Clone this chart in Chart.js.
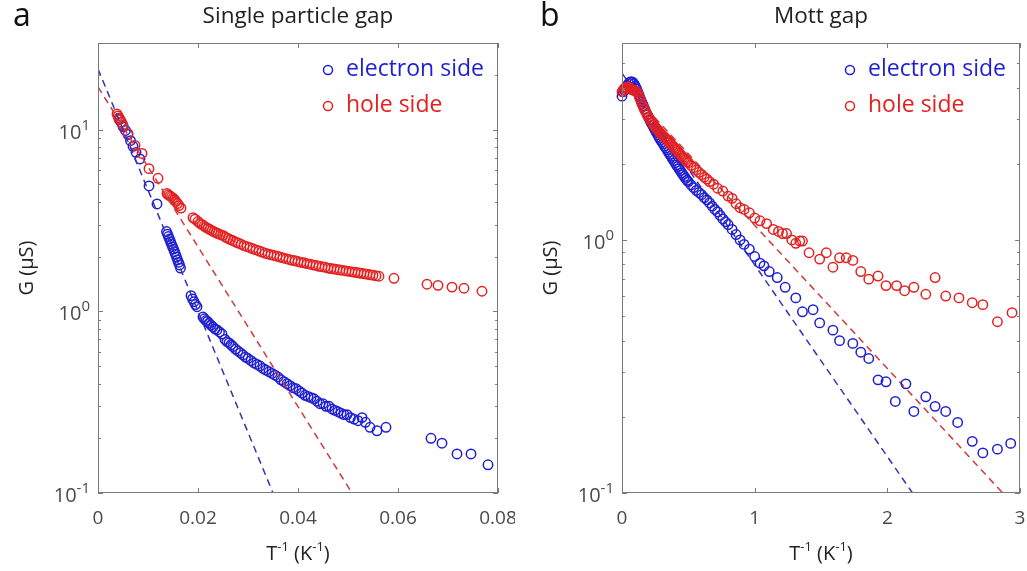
<!DOCTYPE html>
<html>
<head>
<meta charset="utf-8">
<script src="https://cdn.jsdelivr.net/npm/chart.js@4.4.1/dist/chart.umd.min.js"></script>
<style>
  body { margin: 0; background: #fff; width: 1027px; height: 571px; overflow: hidden; position: relative; }
  canvas { position: absolute; top: 0; }
  #gapChart { left: 0; }
  #mottChart { left: 520px; }
</style>
</head>
<body>
<canvas id="gapChart" width="515" height="571"></canvas>
<canvas id="mottChart" width="507" height="571"></canvas>
<script>
// ---- single particle gap: G vs 1/T ----
const gapElectronX = [0.0042, 0.0046, 0.0050, 0.0055, 0.0060, 0.0065, 0.0070, 0.0076, 0.0084, 0.0102, 0.0118,
  0.0137, 0.0139, 0.0141, 0.0143, 0.0145, 0.0147, 0.0149, 0.0151, 0.0153, 0.0155, 0.0157, 0.0159, 0.0161, 0.0163, 0.0165,
  0.0186, 0.0189, 0.0192, 0.0195, 0.0198,
  0.0210, 0.0213, 0.0216, 0.0219, 0.0222, 0.0226, 0.0230, 0.0234, 0.0238, 0.0243, 0.0248, 0.0254, 0.0258, 0.0262, 0.0266,
  0.0270, 0.0275, 0.0280, 0.0285, 0.0290, 0.0295, 0.0300, 0.0306, 0.0312, 0.0318, 0.0324, 0.0330, 0.0336, 0.0342, 0.0348,
  0.0354, 0.0360, 0.0366, 0.0372, 0.0378, 0.0384, 0.0390, 0.0396, 0.0402, 0.0408, 0.0414, 0.0420, 0.0426, 0.0432, 0.0438,
  0.0444, 0.0450, 0.0456, 0.0462, 0.0468, 0.0474, 0.0480, 0.0486, 0.0492, 0.0498, 0.0505, 0.0512, 0.0520, 0.0528, 0.0535,
  0.0544, 0.0558, 0.0576, 0.0666, 0.0688, 0.0718, 0.0746, 0.0780];
const gapElectronG = [11.4, 11.0, 10.4, 9.9, 9.4, 8.7, 8.1, 7.5, 6.9, 4.9, 3.9,
  2.75, 2.66, 2.58, 2.50, 2.42, 2.34, 2.27, 2.20, 2.13, 2.06, 1.99, 1.92, 1.86, 1.80, 1.73,
  1.22, 1.17, 1.13, 1.09, 1.06,
  0.93, 0.91, 0.89, 0.88, 0.86, 0.84, 0.82, 0.80, 0.79, 0.77, 0.75, 0.70, 0.68, 0.67, 0.655,
  0.64, 0.62, 0.605, 0.59, 0.575, 0.56, 0.55, 0.535, 0.52, 0.51, 0.50, 0.485, 0.475, 0.465, 0.455,
  0.445, 0.435, 0.42, 0.41, 0.40, 0.39, 0.38, 0.375, 0.365, 0.355, 0.345, 0.34, 0.335, 0.33, 0.32,
  0.31, 0.31, 0.30, 0.30, 0.29, 0.285, 0.28, 0.275, 0.27, 0.27, 0.26, 0.255, 0.25, 0.26, 0.245,
  0.23, 0.22, 0.23, 0.20, 0.188, 0.164, 0.164, 0.143];

const gapHoleX = [0.0038, 0.0040, 0.0042, 0.0044, 0.0047, 0.0050, 0.0060, 0.0074, 0.0088, 0.0102, 0.0120,
  0.0138, 0.0141, 0.0144, 0.0147, 0.0150, 0.0153, 0.0156, 0.0159, 0.0162, 0.0166,
  0.0190, 0.0194, 0.0200, 0.0204, 0.0208, 0.0212, 0.0216, 0.0220, 0.0224, 0.0228, 0.0232, 0.0236, 0.0240, 0.0245, 0.0250,
  0.0255, 0.0260, 0.0265, 0.0270, 0.0275, 0.0280, 0.0286, 0.0292, 0.0298, 0.0304, 0.0310, 0.0316, 0.0322, 0.0328, 0.0334,
  0.0340, 0.0346, 0.0352, 0.0358, 0.0364, 0.0370, 0.0376, 0.0382, 0.0388, 0.0394, 0.0400, 0.0406, 0.0412, 0.0418, 0.0424,
  0.0430, 0.0436, 0.0442, 0.0448, 0.0454, 0.0460, 0.0466, 0.0472, 0.0478, 0.0484, 0.0490, 0.0496, 0.0502, 0.0508, 0.0514,
  0.0520, 0.0526, 0.0532, 0.0538, 0.0544, 0.0550, 0.0556, 0.0562, 0.0592, 0.0658, 0.0680, 0.0708, 0.0732, 0.0768];
const gapHoleG = [12.2, 11.9, 11.6, 11.4, 11.0, 10.6, 9.5, 8.2, 7.4, 6.1, 5.4,
  4.45, 4.38, 4.32, 4.26, 4.20, 4.12, 4.02, 3.92, 3.82, 3.70,
  3.28, 3.22, 3.12, 3.05, 3.00, 2.95, 2.90, 2.86, 2.82, 2.78, 2.74, 2.71, 2.68, 2.64, 2.62,
  2.56, 2.52, 2.48, 2.45, 2.41, 2.38, 2.34, 2.30, 2.27, 2.24, 2.21, 2.18, 2.15, 2.12, 2.09,
  2.07, 2.05, 2.03, 2.01, 1.99, 1.97, 1.95, 1.93, 1.91, 1.90, 1.88, 1.86, 1.85, 1.83, 1.82,
  1.80, 1.79, 1.77, 1.76, 1.75, 1.73, 1.72, 1.71, 1.70, 1.69, 1.68, 1.67, 1.66, 1.65, 1.64,
  1.63, 1.62, 1.61, 1.60, 1.59, 1.58, 1.57, 1.56, 1.52, 1.41, 1.39, 1.36, 1.34, 1.29];

// activated fits (end points of the straight lines on the log axis)
const gapElectronFitX = [0, 0.0350];
const gapElectronFitG = [21.6, 0.1];
const gapHoleFitX = [0, 0.0508];
const gapHoleFitG = [17.2, 0.1];

// ---- Mott gap: G vs 1/T ----
const mottElectronX = [0.00, 0.01, 0.02, 0.03, 0.04, 0.05, 0.06, 0.07, 0.08, 0.09, 0.10, 0.11, 0.12, 0.13, 0.14, 0.15,
  0.16, 0.17, 0.18, 0.19, 0.20, 0.21, 0.22, 0.23, 0.24, 0.25, 0.26, 0.27, 0.28, 0.29, 0.30, 0.31, 0.32, 0.33, 0.34, 0.35,
  0.36, 0.37, 0.38, 0.39, 0.40, 0.41, 0.42, 0.43, 0.44, 0.45, 0.46, 0.47, 0.48, 0.49, 0.50, 0.52, 0.54, 0.56, 0.58, 0.60,
  0.62, 0.64, 0.66, 0.68, 0.70, 0.72, 0.74, 0.76, 0.78, 0.80, 0.83, 0.86, 0.89, 0.92, 0.96, 1.00, 1.04, 1.07, 1.11, 1.17,
  1.23, 1.31, 1.36, 1.44, 1.49, 1.59, 1.64, 1.74, 1.80, 1.86, 1.93, 1.99, 2.06, 2.14, 2.20, 2.29, 2.36, 2.44, 2.53, 2.64,
  2.72, 2.83, 2.93];
const mottElectronG = [3.70, 3.85, 3.92, 4.00, 4.08, 4.15, 4.20, 4.22, 4.20, 4.14, 4.05, 3.95, 3.84, 3.72, 3.60, 3.50,
  3.40, 3.30, 3.21, 3.13, 3.05, 2.97, 2.90, 2.84, 2.78, 2.71, 2.66, 2.60, 2.54, 2.49, 2.44, 2.40, 2.35, 2.31, 2.27, 2.22,
  2.18, 2.14, 2.10, 2.06, 2.02, 1.98, 1.95, 1.91, 1.88, 1.84, 1.81, 1.78, 1.75, 1.72, 1.70, 1.65, 1.61, 1.57, 1.54, 1.51,
  1.47, 1.44, 1.40, 1.36, 1.32, 1.29, 1.25, 1.21, 1.18, 1.15, 1.10, 1.05, 1.00, 0.96, 0.92, 0.86, 0.81, 0.79, 0.75, 0.71,
  0.65, 0.59, 0.52, 0.53, 0.47, 0.44, 0.40, 0.39, 0.36, 0.34, 0.28, 0.275, 0.23, 0.27, 0.21, 0.24, 0.22, 0.21, 0.19, 0.16,
  0.144, 0.149, 0.157];

const mottHoleX = [0.00, 0.01, 0.02, 0.03, 0.04, 0.05, 0.06, 0.07, 0.08, 0.09, 0.10, 0.11, 0.12, 0.13, 0.14, 0.15,
  0.16, 0.17, 0.18, 0.19, 0.20, 0.21, 0.22, 0.23, 0.24, 0.25, 0.26, 0.27, 0.28, 0.29, 0.30, 0.31, 0.32, 0.33, 0.34, 0.35,
  0.36, 0.37, 0.38, 0.39, 0.40, 0.41, 0.42, 0.43, 0.44, 0.45, 0.46, 0.47, 0.48, 0.49, 0.50, 0.52, 0.54, 0.56, 0.58, 0.60,
  0.62, 0.64, 0.66, 0.69, 0.72, 0.76, 0.80, 0.83, 0.86, 0.89, 0.92, 0.96, 1.00, 1.04, 1.09, 1.14, 1.18, 1.21, 1.24, 1.28,
  1.31, 1.34, 1.36, 1.41, 1.49, 1.54, 1.59, 1.64, 1.69, 1.74, 1.80, 1.86, 1.93, 1.99, 2.07, 2.13, 2.20, 2.29, 2.36, 2.44,
  2.54, 2.64, 2.72, 2.83, 2.94];
const mottHoleG = [3.85, 3.92, 3.98, 4.00, 3.97, 4.02, 3.96, 3.93, 3.92, 3.90, 3.88, 3.85, 3.80, 3.68, 3.56, 3.45,
  3.36, 3.28, 3.20, 3.13, 3.06, 3.00, 2.95, 2.89, 2.84, 2.80, 2.76, 2.72, 2.68, 2.64, 2.61, 2.58, 2.55, 2.52, 2.49, 2.46,
  2.42, 2.39, 2.36, 2.33, 2.30, 2.27, 2.24, 2.21, 2.18, 2.15, 2.12, 2.10, 2.07, 2.04, 2.02, 1.97, 1.93, 1.89, 1.85, 1.81,
  1.77, 1.74, 1.70, 1.66, 1.60, 1.56, 1.49, 1.46, 1.39, 1.34, 1.32, 1.28, 1.22, 1.19, 1.16, 1.10, 1.08, 1.06, 1.06, 1.00,
  0.97, 0.99, 0.99, 0.89, 0.84, 0.89, 0.78, 0.85, 0.85, 0.83, 0.75, 0.70, 0.72, 0.66, 0.66, 0.63, 0.65, 0.61, 0.71, 0.60,
  0.59, 0.565, 0.555, 0.475, 0.516];

const mottElectronFitX = [0, 2.19];
const mottElectronFitG = [4.56, 0.1];
const mottHoleFitX = [0, 2.87];
const mottHoleFitG = [4.2, 0.1];

// ---- axis ticks ----
const gapXTicks = [0, 0.02, 0.04, 0.06, 0.08];
const gapXLabels = ["0", "0.02", "0.04", "0.06", "0.08"];
const mottXTicks = [0, 1, 2, 3];
const mottXLabels = ["0", "1", "2", "3"];
const gapYDecades = [-1, 0, 1];
const mottYDecades = [-1, 0];

const BLUE = "#1f1fd2";
const RED = "#e42020";
const BLUE_FIT = "#3434b4";
const RED_FIT = "#cd3c3c";
const AXIS = "#7a7a7a";
const TICK_TEXT = "#4a4a4a";
const FONT = '"Open Sans", "DejaVu Sans", sans-serif';

const toPoints = (xs, ys) => xs.map((x, i) => ({ x: x, y: ys[i] }));

function minorTicks(min, max) {
  const out = [];
  for (let e = Math.floor(Math.log10(min)); e <= Math.ceil(Math.log10(max)); e++) {
    for (let m = 2; m <= 9; m++) {
      const v = m * Math.pow(10, e);
      if (v > min && v < max) out.push(v);
    }
  }
  return out;
}

// text runs with raised exponents, e.g. 10^-1 or T^-1
function drawWithSup(ctx, parts, x, y, baseSize, supSize, align) {
  let total = 0;
  parts.forEach((p) => {
    ctx.font = (p.sup ? supSize : baseSize) + "px " + FONT;
    p.w = ctx.measureText(p.t).width;
    total += p.w;
  });
  let cx = align === "right" ? x - total : align === "center" ? x - total / 2 : x;
  ctx.textAlign = "left";
  ctx.textBaseline = "alphabetic";
  parts.forEach((p) => {
    ctx.font = (p.sup ? supSize : baseSize) + "px " + FONT;
    ctx.fillText(p.t, cx, p.sup ? y - baseSize * 0.45 : y);
    cx += p.w;
  });
}

// axes box, inward ticks, labels, titles and legend
const panelDecor = {
  id: "panelDecor",
  afterDraw(chart, args, opts) {
    const ctx = chart.ctx;
    const area = chart.chartArea;
    const xs = chart.scales.x;
    const ys = chart.scales.y;
    ctx.save();

    ctx.strokeStyle = AXIS;
    ctx.lineWidth = 1;
    ctx.strokeRect(area.left + 0.5, area.top + 0.5, area.right - area.left - 1, area.bottom - area.top - 1);

    ctx.beginPath();
    opts.xTicks.forEach((v) => {
      const px = Math.round(xs.getPixelForValue(v)) + 0.5;
      ctx.moveTo(px, area.bottom); ctx.lineTo(px, area.bottom - 5);
      ctx.moveTo(px, area.top); ctx.lineTo(px, area.top + 5);
    });
    opts.yDecades.forEach((d) => {
      const py = Math.round(ys.getPixelForValue(Math.pow(10, d))) + 0.5;
      ctx.moveTo(area.left, py); ctx.lineTo(area.left + 5, py);
      ctx.moveTo(area.right, py); ctx.lineTo(area.right - 5, py);
    });
    minorTicks(ys.min, ys.max).forEach((v) => {
      const py = Math.round(ys.getPixelForValue(v)) + 0.5;
      ctx.moveTo(area.left, py); ctx.lineTo(area.left + 3, py);
      ctx.moveTo(area.right, py); ctx.lineTo(area.right - 3, py);
    });
    ctx.stroke();

    // tick labels
    ctx.fillStyle = TICK_TEXT;
    ctx.font = "19px " + FONT;
    ctx.textAlign = "center";
    ctx.textBaseline = "middle";
    opts.xTicks.forEach((v, i) => {
      ctx.fillText(opts.xLabels[i], xs.getPixelForValue(v), area.bottom + 26);
    });
    opts.yDecades.forEach((d) => {
      const py = ys.getPixelForValue(Math.pow(10, d));
      drawWithSup(ctx, [{ t: "10" }, { t: String(d), sup: true }], area.left - 8, py + 9, 20, 15, "right");
    });

    // axis titles
    ctx.fillStyle = "#222";
    drawWithSup(ctx, [{ t: "T" }, { t: "-1", sup: true }, { t: " (K" }, { t: "-1", sup: true }, { t: ")" }],
      (area.left + area.right) / 2, area.bottom + 67, 20, 13, "center");
    ctx.save();
    ctx.translate(opts.yTitleX, (area.top + area.bottom) / 2);
    ctx.rotate(-Math.PI / 2);
    ctx.font = "20px " + FONT;
    ctx.textAlign = "center";
    ctx.textBaseline = "middle";
    ctx.fillText("G (\u03bcS)", 0, 0);
    ctx.restore();

    // title and panel letter
    ctx.font = "22.5px " + FONT;
    ctx.textAlign = "center";
    ctx.textBaseline = "middle";
    ctx.fillText(opts.title, (area.left + area.right) / 2, 17);
    ctx.font = "32px " + FONT;
    ctx.textAlign = "left";
    ctx.fillStyle = "#111";
    ctx.fillText(opts.letter, opts.letterX, 17);

    // legend
    ctx.font = "23px " + FONT;
    ctx.textBaseline = "middle";
    [["electron side", BLUE, 70], ["hole side", RED, 106]].forEach(([label, color, y]) => {
      ctx.strokeStyle = color;
      ctx.lineWidth = 1.5;
      ctx.beginPath();
      ctx.arc(opts.legendX, y, 4.5, 0, Math.PI * 2);
      ctx.stroke();
      ctx.fillStyle = color;
      ctx.fillText(label, opts.legendX + 18, y - 1);
    });
    ctx.restore();
  },
};

function scatterSet(label, xs, ys, color, order) {
  return {
    label: label,
    data: toPoints(xs, ys),
    showLine: false,
    pointStyle: "circle",
    pointRadius: 4.7,
    pointBorderWidth: 1.5,
    pointBackgroundColor: "rgba(0,0,0,0)",
    pointBorderColor: color,
    borderColor: color,
    clip: false,
    order: order,
  };
}

function fitSet(xs, ys, color, order) {
  return {
    data: toPoints(xs, ys),
    showLine: true,
    pointRadius: 0,
    borderColor: color,
    borderWidth: 1.5,
    borderDash: [7, 5],
    fill: false,
    order: order,
  };
}

function makePanel(id, datasets, xMax, yMax, padding, decor) {
  return new Chart(document.getElementById(id), {
    type: "scatter",
    data: { datasets: datasets },
    options: {
      responsive: false,
      animation: false,
      events: [],
      layout: { padding: padding },
      scales: {
        x: { type: "linear", min: 0, max: xMax, display: false },
        y: { type: "logarithmic", min: 0.1, max: yMax, display: false },
      },
      plugins: {
        legend: { display: false },
        tooltip: { enabled: false },
        panelDecor: decor,
      },
    },
    plugins: [panelDecor],
  });
}

makePanel("gapChart", [
  fitSet(gapElectronFitX, gapElectronFitG, BLUE_FIT, 0),
  fitSet(gapHoleFitX, gapHoleFitG, RED_FIT, 0),
  scatterSet("hole side", gapHoleX, gapHoleG, RED, 1),
  scatterSet("electron side", gapElectronX, gapElectronG, BLUE, 2),
], 0.08, 30, { left: 98, right: 17, top: 43, bottom: 78 }, {
  xTicks: gapXTicks, xLabels: gapXLabels, yDecades: gapYDecades,
  title: "Single particle gap", letter: "a", letterX: 13, yTitleX: 27, legendX: 328,
});

makePanel("mottChart", [
  scatterSet("hole side", mottHoleX, mottHoleG, RED, 1),
  scatterSet("electron side", mottElectronX, mottElectronG, BLUE, 2),
  fitSet(mottElectronFitX, mottElectronFitG, BLUE_FIT, 3),
  fitSet(mottHoleFitX, mottHoleFitG, RED_FIT, 3),
], 3, 6, { left: 102, right: 7, top: 43, bottom: 78 }, {
  xTicks: mottXTicks, xLabels: mottXLabels, yDecades: mottYDecades,
  title: "Mott gap", letter: "b", letterX: 20, yTitleX: 31, legendX: 330,
});
</script>
</body>
</html>
